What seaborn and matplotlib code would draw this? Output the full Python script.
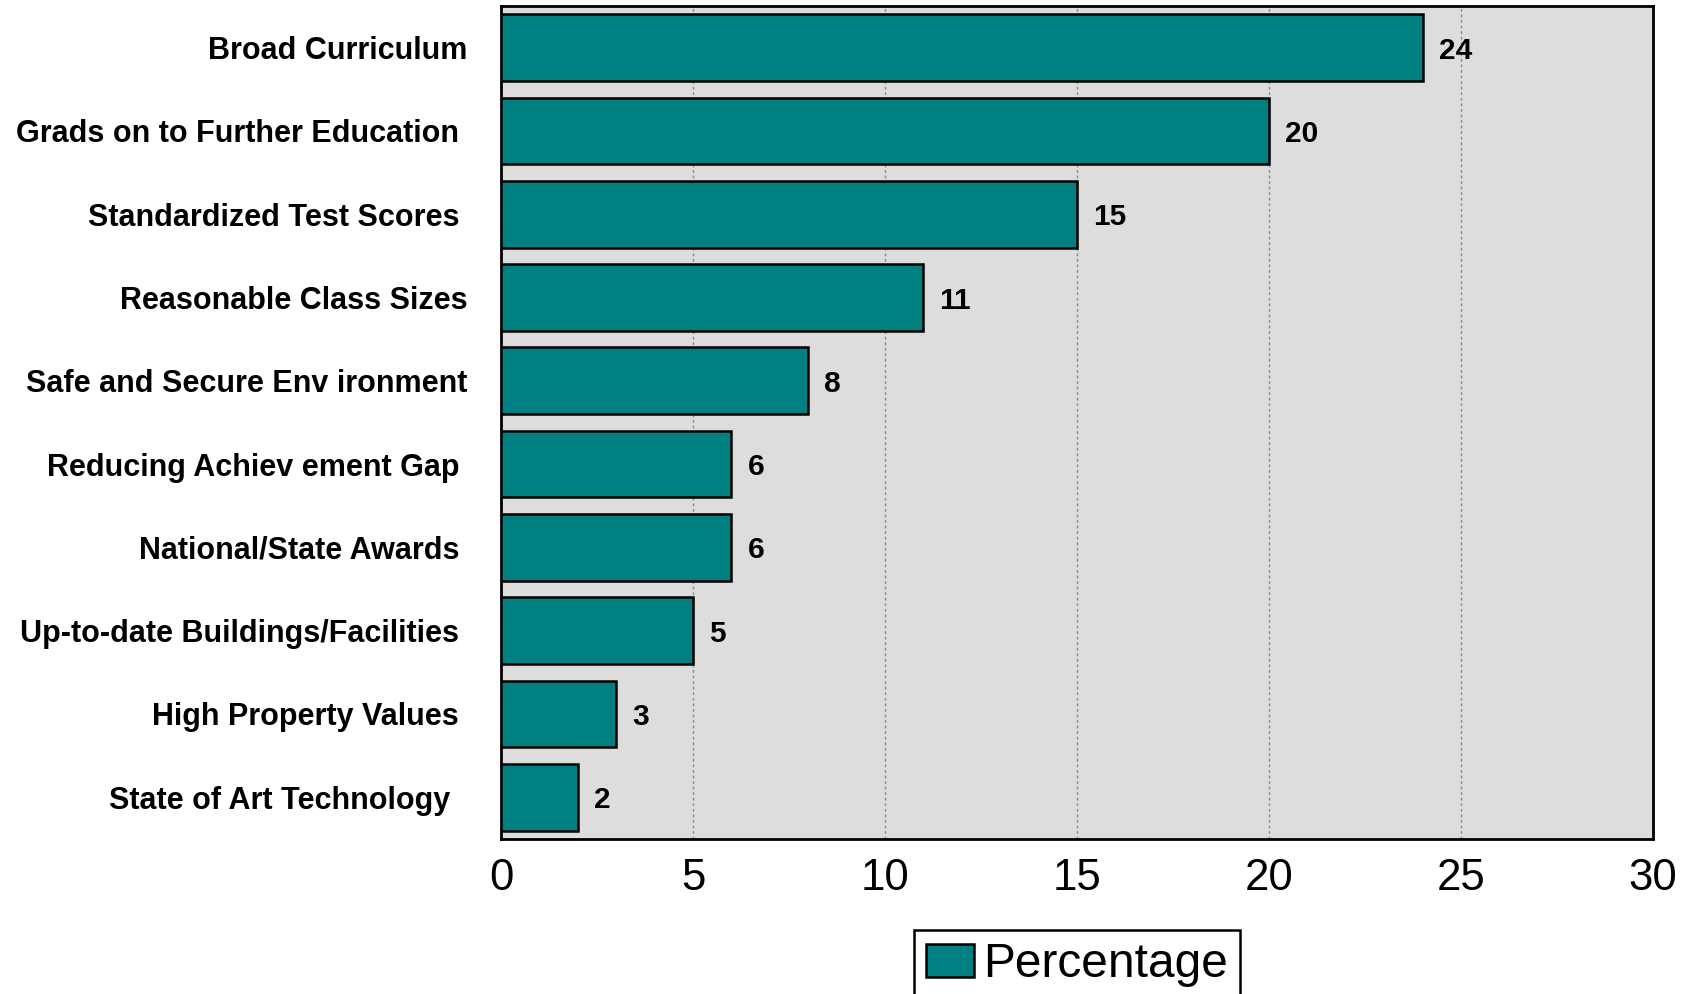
import matplotlib
matplotlib.use("Agg")
import matplotlib.pyplot as plt
import seaborn as sns
import pandas as pd

categories = [
    "Broad Curriculum",
    "Grads on to Further Education ",
    "Standardized Test Scores ",
    "Reasonable Class Sizes",
    "Safe and Secure Env ironment",
    "Reducing Achiev ement Gap ",
    "National/State Awards ",
    "Up-to-date Buildings/Facilities ",
    "High Property Values ",
    "State of Art Technology  ",
]
values = [24, 20, 15, 11, 8, 6, 6, 5, 3, 2]
xticks = [0, 5, 10, 15, 20, 25, 30]

df = pd.DataFrame({"Category": categories, "Percentage": values})

sns.set_theme(style="white")
plt.rcParams["font.family"] = ["Liberation Sans", "DejaVu Sans"]
plt.rcParams["text.color"] = "black"
plt.rcParams["xtick.color"] = "black"
plt.rcParams["ytick.color"] = "black"

fig = plt.figure(figsize=(16.96, 9.94), dpi=100)
ax = fig.add_axes([0.2954, 0.156, 0.6792, 0.838])
ax.set_facecolor("#DDDDDD")

sns.barplot(data=df, x="Percentage", y="Category", orient="h", color="#008080",
            saturation=1, width=0.8, edgecolor="black", linewidth=1.8, ax=ax,
            label="Percentage", zorder=3)

ax.set_xlim(0, 30)
ax.set_xticks(xticks)
ax.set_xticklabels([str(t) for t in xticks], fontsize=31.5)
ax.tick_params(axis="x", pad=14, length=0, labelcolor="black")
ax.tick_params(axis="y", pad=24, length=0, labelcolor="black")
for lbl in ax.get_yticklabels():
    lbl.set_fontsize(22)
    lbl.set_fontweight("bold")
ax.set_xlabel("")
ax.set_ylabel("")

for x in xticks[1:-1]:
    ax.axvline(x, color="#888888", linestyle=(0, (2, 2)), linewidth=1, zorder=1)

for spine in ax.spines.values():
    spine.set_visible(True)
    spine.set_color("black")
    spine.set_linewidth(2)

for i, v in enumerate(values):
    ax.text(v + 0.42, i, str(v), va="center_baseline", ha="left", fontsize=21.5,
            fontweight="bold", color="black", zorder=4)

leg = ax.legend(loc="upper center", bbox_to_anchor=(0.635, 0.064),
                bbox_transform=fig.transFigure, fontsize=34.5, frameon=True,
                fancybox=False, framealpha=1, edgecolor="black",
                handlelength=1.0, handleheight=0.7, handletextpad=0.2,
                borderpad=0.25, borderaxespad=0)
leg.get_frame().set_linewidth(1.8)

fig.savefig("out.png", dpi=100)
